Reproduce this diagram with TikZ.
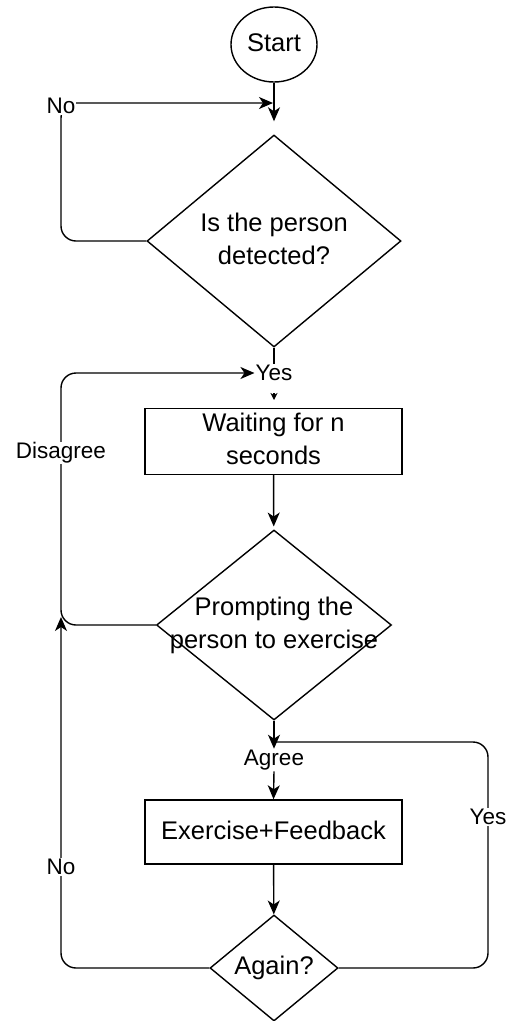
\documentclass[tikz,border=0pt]{standalone}
\usepackage{fontspec}
\setmainfont{Liberation Sans}
\usetikzlibrary{shapes.geometric,arrows.meta}
\newcommand\nodefont{\fontsize{25.5}{33}\selectfont}
\newcommand\lblfont{\fontsize{22.5}{26}\selectfont}
\newcommand\dtext[1]{\makebox[0pt]{\begin{tabular}{@{}c@{}}#1\end{tabular}}}
\tikzset{
  base/.style={draw, line width=1.4pt, font=\nodefont, inner sep=0pt},
  dia/.style={base, diamond},
  procbox/.style={base, rectangle, minimum width=257pt, align=center},
  startshape/.style={base, ellipse, minimum width=86pt, minimum height=75pt},
  lbl/.style={fill=white, font=\lblfont, inner sep=1pt},
  arr/.style={line width=1.4pt, -{Stealth[length=14pt,width=12pt,inset=4pt]}},
  tinyarr/.style={line width=1.4pt, -{Stealth[length=7pt,width=7pt,inset=2pt]}},
  conn/.style={line width=1.4pt, rounded corners=15pt},
}
\begin{document}
\begin{tikzpicture}[x=1pt,y=-1pt]
\useasboundingbox (0,0) rectangle (506,1021);
% nodes
\node[startshape] (start) at (274,44.5) {\raisebox{3pt}{Start}};
\node[dia, minimum width=254pt, minimum height=212pt] (d1) at (274,241) {\dtext{Is the person\\detected?}};
\node[procbox, minimum height=65pt] (wait) at (273.5,441.5) {\raisebox{5pt}{\begin{tabular}{@{}c@{}}Waiting for n\\seconds\end{tabular}}};
\node[dia, minimum width=235pt, minimum height=190pt] (d2) at (274,625) {\dtext{Prompting the\\person to exercise}};
\node[procbox, minimum height=64pt] (ex) at (273.5,832) {\raisebox{3pt}{Exercise+Feedback}};
\node[dia, minimum width=128pt, minimum height=106pt] (d3) at (274,968) {\dtext{Again?}};
% coordinates
\coordinate (nojoin) at (273,103);
\coordinate (ytip) at (274,400);
\coordinate (ajoin) at (274,742);
\coordinate (nojoin2) at (61,617);
% connectors
\draw[arr, shorten >=13pt] (start) -- (d1);
\draw[conn, arr] (d1.west) -- (61,241) -- (61,103) -- (nojoin);
\node[lbl] (no1) at (61,106) {No};

\node[lbl] (yes1) at (274,373) {Yes};
\draw[line width=1.4pt] (d1.south) -- (yes1.north);
\draw[tinyarr] ([yshift=7pt]ytip) -- (ytip);

\draw[conn, arr] (d2.west) -- (61,625) -- (61,373) -- (yes1.west);
\node[lbl] (disagree) at (61,453) {Disagree};

\draw[arr, shorten >=3pt] (wait) -- (d2);

\node[lbl] (agree) at (274,760) {Agree};
\draw[arr] (d2.south) -- (agree.north);
\draw[arr] (agree.south) -- (ex.north);

\draw[conn] (d3.east) -- (488,968) -- (488,742) -- (ajoin);
\node[lbl] (yes2) at (488,817) {Yes};

\draw[arr] (ex) -- (d3);

\draw[conn, arr] (d3.west) -- (61,968) -- (nojoin2);
\node[lbl] (no2) at (61,867) {No};
\end{tikzpicture}
\end{document}
